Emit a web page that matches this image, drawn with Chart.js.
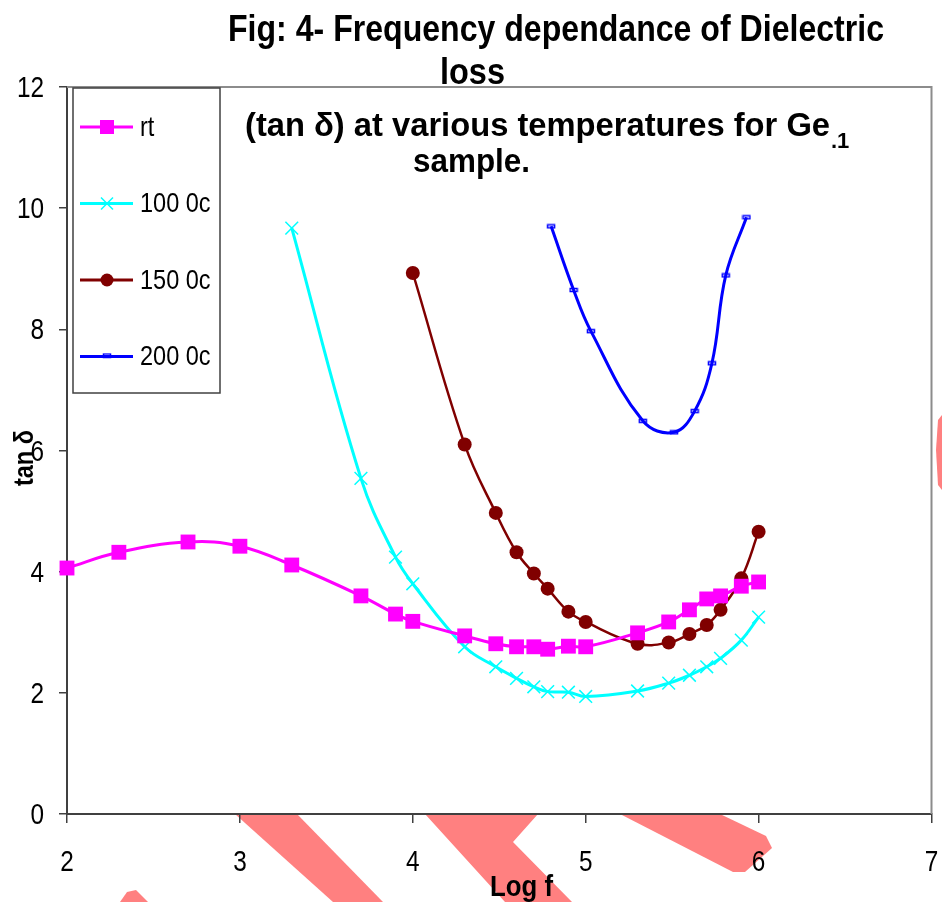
<!DOCTYPE html>
<html>
<head>
<meta charset="utf-8">
<script src="https://cdn.jsdelivr.net/npm/chart.js"></script>
<style>
  html, body { margin: 0; padding: 0; background: #fff; }
  canvas { display: block; }
</style>
</head>
<body>
<canvas id="loss-chart" width="942" height="902"></canvas>
<script>
var FONT = "'Liberation Sans', Arial, sans-serif";
var SQUEEZE = 0.84;

// log f values and tan delta
var logF = [2, 2.3, 2.7, 3, 3.3, 3.7, 3.9, 4, 4.3, 4.48, 4.6, 4.7, 4.78, 4.9, 5, 5.3, 5.48, 5.6, 5.7, 5.78, 5.9, 6];
var lossRt = [4.06, 4.32, 4.49, 4.42, 4.11, 3.60, 3.30, 3.18, 2.94, 2.81, 2.76, 2.76, 2.72, 2.77, 2.76, 2.99, 3.17, 3.37, 3.55, 3.60, 3.76, 3.83];

var logF100 = [3.3, 3.7, 3.9, 4, 4.3, 4.48, 4.6, 4.7, 4.78, 4.9, 5, 5.3, 5.48, 5.6, 5.7, 5.78, 5.9, 6];
var loss100 = [9.67, 5.54, 4.24, 3.80, 2.76, 2.43, 2.24, 2.10, 2.02, 2.01, 1.94, 2.03, 2.16, 2.29, 2.43, 2.57, 2.87, 3.25];

var logF150 = [4, 4.3, 4.48, 4.6, 4.7, 4.78, 4.9, 5, 5.3, 5.48, 5.6, 5.7, 5.78, 5.9, 6];
var loss150 = [8.93, 6.10, 4.97, 4.32, 3.97, 3.72, 3.34, 3.17, 2.81, 2.83, 2.97, 3.12, 3.37, 3.89, 4.66];

var logF200 = [4.80, 4.93, 5.03, 5.33, 5.51, 5.63, 5.73, 5.81, 5.93];
var loss200 = [9.70, 8.65, 7.97, 6.49, 6.30, 6.65, 7.44, 8.89, 9.85];

var seriesNames = ['rt', '100 0c', '150 0c', '200 0c'];
var xTicks = [2, 3, 4, 5, 6, 7];
var yTicks = [0, 2, 4, 6, 8, 10, 12];

function points(xs, ys) {
  return xs.map((x, i) => ({ x: x, y: ys[i] }));
}

// small open rectangle used as the 200 0c marker
var blueMark = document.createElement('canvas');
blueMark.width = 10;
blueMark.height = 6;
var bctx = blueMark.getContext('2d');
bctx.strokeStyle = '#0000ff';
bctx.lineWidth = 1.5;
bctx.strokeRect(1.5, 1.5, 7, 3);

var datasets = [
  { label: seriesNames[0], data: points(logF, lossRt), borderColor: '#ff00ff', backgroundColor: '#ff00ff',
    borderWidth: 3, pointStyle: 'rect', pointRadius: 10.5, pointBorderWidth: 0 },
  { label: seriesNames[1], data: points(logF100, loss100), borderColor: '#00ffff', backgroundColor: '#00ffff',
    borderWidth: 3, pointStyle: 'crossRot', pointRadius: 9, pointBorderWidth: 1.5 },
  { label: seriesNames[2], data: points(logF150, loss150), borderColor: '#800000', backgroundColor: '#800000',
    borderWidth: 2.5, pointStyle: 'circle', pointRadius: 7, pointBorderWidth: 0 },
  { label: seriesNames[3], data: points(logF200, loss200), borderColor: '#0000ff', backgroundColor: '#0000ff',
    borderWidth: 3, pointStyle: blueMark, pointRadius: 5 }
];
datasets.forEach(d => { d.tension = 0.4; d.clip = false; d.fill = false; });

function fitText(ctx, text, x, y, w) {
  var natural = ctx.measureText(text).width;
  ctx.save();
  ctx.translate(x, y);
  ctx.scale(w / natural, 1);
  ctx.fillText(text, 0, 0);
  ctx.restore();
}

function narrowText(ctx, text, x, y, align) {
  ctx.save();
  ctx.translate(x, y);
  ctx.scale(SQUEEZE, 1);
  ctx.textAlign = align;
  ctx.fillText(text, 0, 0);
  ctx.restore();
}

var backdrop = {
  id: 'backdrop',
  beforeDraw: function(chart) {
    var ctx = chart.ctx;
    ctx.save();
    ctx.fillStyle = '#fff';
    ctx.fillRect(0, 0, chart.width, chart.height);
    var stripes = [
      [[235, 814], [297, 814], [383, 902], [333, 902]],
      [[425, 814], [538, 814], [513, 842], [572, 902], [505, 902]],
      [[620, 814], [720, 814], [766, 836], [772, 848], [745, 872], [733, 872]],
      [[942, 415], [938, 420], [936, 450], [938, 485], [942, 490]],
      [[120, 902], [127, 892], [136, 890], [148, 902]]
    ];
    ctx.fillStyle = '#ff8080';
    stripes.forEach(poly => {
      ctx.beginPath();
      poly.forEach((p, i) => i ? ctx.lineTo(p[0], p[1]) : ctx.moveTo(p[0], p[1]));
      ctx.closePath();
      ctx.fill();
    });
    ctx.restore();
  },
  beforeDatasetsDraw: function(chart) {
    var a = chart.chartArea, ctx = chart.ctx;
    ctx.save();
    ctx.strokeStyle = '#8c8c8c';
    ctx.lineWidth = 2;
    ctx.beginPath();
    ctx.moveTo(a.left, a.top);
    ctx.lineTo(a.right, a.top);
    ctx.lineTo(a.right, a.bottom);
    ctx.stroke();
    ctx.restore();
  }
};

var axisText = {
  id: 'axisText',
  afterDraw: function(chart) {
    var ctx = chart.ctx, xs = chart.scales.x, ys = chart.scales.y;
    ctx.save();
    ctx.fillStyle = '#000';
    ctx.textBaseline = 'alphabetic';
    ctx.font = '29px ' + FONT;
    xs.ticks.forEach(t => narrowText(ctx, String(t.value), xs.getPixelForValue(t.value), 871, 'center'));
    ctx.font = '29px ' + FONT;
    ys.ticks.forEach(t => narrowText(ctx, String(t.value), 44, ys.getPixelForValue(t.value) + 10, 'right'));
    ctx.font = 'bold 28px ' + FONT;
    ctx.save();
    ctx.translate(33, 458);
    ctx.rotate(-Math.PI / 2);
    narrowText(ctx, 'tan \u03b4', 0, 0, 'center');
    ctx.restore();
    ctx.restore();
  }
};

var legendBox = {
  id: 'legendBox',
  afterDraw: function(chart) {
    var ctx = chart.ctx;
    ctx.save();
    ctx.fillStyle = '#fff';
    ctx.fillRect(73, 88, 147, 305);
    ctx.strokeStyle = '#404040';
    ctx.lineWidth = 1.5;
    ctx.strokeRect(73, 88, 147, 305);
    chart.data.datasets.forEach((d, i) => {
      var y = 127 + i * 76.5;
      ctx.strokeStyle = d.borderColor;
      ctx.lineWidth = 3;
      ctx.beginPath();
      ctx.moveTo(80, y);
      ctx.lineTo(133, y);
      ctx.stroke();
      ctx.fillStyle = d.borderColor;
      if (i === 0) {
        ctx.fillRect(100, y - 7, 14, 14);
      } else if (i === 1) {
        ctx.lineWidth = 1.5;
        ctx.beginPath();
        ctx.moveTo(101, y - 6); ctx.lineTo(113, y + 6);
        ctx.moveTo(113, y - 6); ctx.lineTo(101, y + 6);
        ctx.stroke();
      } else if (i === 2) {
        ctx.beginPath();
        ctx.arc(107, y, 6.5, 0, Math.PI * 2);
        ctx.fill();
      } else {
        ctx.drawImage(blueMark, 102, y - 4);
      }
      ctx.fillStyle = '#000';
      ctx.font = '28px ' + FONT;
      ctx.textBaseline = 'middle';
      narrowText(ctx, d.label, 140, y + 1, 'left');
    });
    ctx.restore();
  }
};

var captions = {
  id: 'captions',
  afterDraw: function(chart) {
    var ctx = chart.ctx;
    ctx.save();
    ctx.fillStyle = '#000';
    ctx.textBaseline = 'alphabetic';
    ctx.font = 'bold 36px ' + FONT;
    fitText(ctx, 'Fig: 4- Frequency dependance of Dielectric', 228, 41, 656);
    fitText(ctx, 'loss', 440, 84, 65);
    ctx.font = 'bold 34px ' + FONT;
    fitText(ctx, '(tan \u03b4) at various temperatures for Ge', 245, 136, 585);
    fitText(ctx, 'sample.', 413, 172, 117);
    ctx.font = 'bold 22px ' + FONT;
    ctx.fillText('.1', 831, 148);
    ctx.font = 'bold 30px ' + FONT;
    fitText(ctx, 'Log f', 490, 896, 63);
    ctx.restore();
  }
};

function noPad(scale) {
  scale.paddingLeft = 0;
  scale.paddingRight = 0;
  scale.paddingTop = 0;
  scale.paddingBottom = 0;
}

new Chart(document.getElementById('loss-chart'), {
  type: 'line',
  data: { datasets: datasets },
  options: {
    responsive: false,
    animation: false,
    layout: { padding: { top: 87, right: 6, left: 0, bottom: 0 } },
    plugins: {
      legend: { display: false },
      tooltip: { enabled: false }
    },
    scales: {
      x: {
        type: 'linear',
        min: xTicks[0],
        max: xTicks[xTicks.length - 1],
        afterBuildTicks: function(scale) { scale.ticks = xTicks.map(v => ({ value: v })); },
        afterFit: function(scale) { scale.height = 88; noPad(scale); },
        ticks: { display: false },
        grid: { drawOnChartArea: false, drawTicks: true, tickLength: 9, color: '#404040', lineWidth: 1.5 },
        border: { color: '#404040', width: 2 }
      },
      y: {
        min: yTicks[0],
        max: yTicks[yTicks.length - 1],
        afterBuildTicks: function(scale) { scale.ticks = yTicks.map(v => ({ value: v })); },
        afterFit: function(scale) { scale.width = 67; noPad(scale); },
        ticks: { display: false },
        grid: { drawOnChartArea: false, drawTicks: true, tickLength: 8, color: '#404040', lineWidth: 1.5 },
        border: { color: '#404040', width: 2 }
      }
    }
  },
  plugins: [backdrop, axisText, legendBox, captions]
});
</script>
</body>
</html>
